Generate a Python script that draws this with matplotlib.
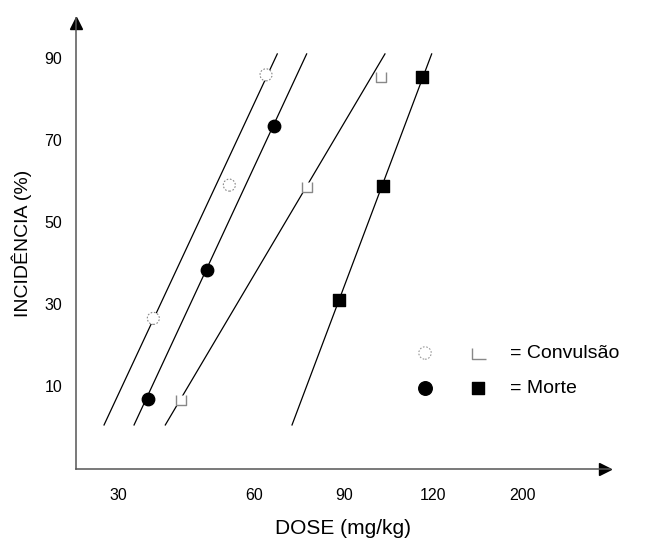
import matplotlib
matplotlib.use("Agg")
import matplotlib.pyplot as plt
from matplotlib.transforms import offset_copy

plt.rcParams['font.family'] = ['Liberation Sans', 'DejaVu Sans']

# ---- data (x in axis position units; 60/90/120/200 evenly spaced) ----
x_tick_pos = [0.47, 2, 3, 4, 5]
x_tick_labels = ['30', '60', '90', '120', '200']
x_mark_pos = [2, 3, 4, 5]
y_tick_vals = [10, 30, 50, 70, 90]
y_mark_vals = [50, 90]

conv_circ_x = [0.866, 1.717, 2.128]
conv_circ_y = [26.5, 59.0, 85.9]
morte_circ_x = [0.81, 1.470, 2.217]
morte_circ_y = [6.8, 38.3, 73.4]
conv_sq_x = [1.18, 2.583, 3.42]
conv_sq_y = [6.6, 58.6, 85.3]
morte_sq_x = [2.95, 3.434, 3.88]
morte_sq_y = [31.0, 58.9, 85.3]

# fitted lines: x at the low and high end of each line
line_y = [0.5, 91.0]
line_conv_circ_x = [0.314, 2.254]
line_morte_circ_x = [0.65, 2.583]
line_conv_sq_x = [1.0, 3.46]
line_morte_sq_x = [2.419, 3.983]

fig = plt.figure(figsize=(6.58, 5.52), dpi=100)
ax = fig.add_axes([76/658, 83/552, 534/658, 451/552])
ax.set_xlim(0, 5.98)
ax.set_ylim(-10.24, 99.76)

for lx in [line_conv_circ_x, line_morte_circ_x, line_conv_sq_x, line_morte_sq_x]:
    ax.plot(lx, line_y, color='black', lw=0.9, zorder=2)

u_marker = [(-1, 1), (-1, -1), (1, -1), (1, 1)]
l_marker = [(-1, 0.8), (-1, -1), (1.3, -1)]

ax.scatter(conv_circ_x, conv_circ_y, s=75, facecolors='white', edgecolors='#888888',
           linewidths=0.8, linestyles=(0, (1.5, 1.5)), zorder=3)
ax.scatter(morte_circ_x, morte_circ_y, s=80, c='black', marker='o', zorder=3)
ax.scatter(conv_sq_x, conv_sq_y, s=62, facecolors='white', edgecolors='#888888',
           marker=u_marker, linewidths=1.0, zorder=3)
ax.scatter(morte_sq_x, morte_sq_y, s=75, c='black', marker='s', zorder=3)

# axes
for s in ['top', 'right']:
    ax.spines[s].set_visible(False)
for s in ['left', 'bottom']:
    ax.spines[s].set_color('#555555')
    ax.spines[s].set_linewidth(1.1)

ax.set_xticks(x_tick_pos)
ax.set_xticklabels(x_tick_labels)
ax.set_xticks(x_mark_pos, minor=True)
ax.set_yticks(y_tick_vals)
ax.set_yticklabels([str(v) for v in y_tick_vals])
ax.set_yticks(y_mark_vals, minor=True)
ax.tick_params(axis='both', which='major', length=0, labelsize=11.5, colors='black')
ax.tick_params(axis='x', which='major', pad=14)
ax.tick_params(axis='y', which='major', pad=10)
ax.tick_params(axis='x', which='minor', direction='in', length=6, width=0.8, color='#555555')
ax.tick_params(axis='y', which='minor', direction='in', length=10, width=0.8, color='#555555')

ax.set_xlabel('DOSE (mg/kg)', fontsize=15, labelpad=11)
ax.set_ylabel('INCIDÊNCIA (%)', fontsize=14, labelpad=9)

# arrow heads
ax.plot([1], [0], marker='>', color='black', markersize=8, clip_on=False,
        transform=offset_copy(ax.transAxes, fig, x=-5, y=0, units='dots'))
ax.plot([0], [1], marker='^', color='black', markersize=8, clip_on=False,
        transform=offset_copy(ax.transAxes, fig, x=0, y=-5, units='dots'))

# legend
ax.scatter([0.6536], [0.2572], s=80, facecolors='white', edgecolors='#999999',
           linewidths=0.8, linestyles=(0, (1.5, 1.5)), transform=ax.transAxes, clip_on=False)
ax.scatter([0.7528], [0.2572], s=120, facecolors='white', edgecolors='#888888',
           marker=l_marker, linewidths=1.0, transform=ax.transAxes, clip_on=False)
ax.text(0.8127, 0.2572, '= Convulsão', fontsize=14, va='center', ha='left', transform=ax.transAxes)
ax.scatter([0.6536], [0.1796], s=95, c='black', marker='o', transform=ax.transAxes, clip_on=False)
ax.scatter([0.7528], [0.1796], s=65, c='black', marker='s', transform=ax.transAxes, clip_on=False)
ax.text(0.8127, 0.1796, '= Morte', fontsize=14, va='center', ha='left', transform=ax.transAxes)

fig.savefig('out.png', dpi=100)
